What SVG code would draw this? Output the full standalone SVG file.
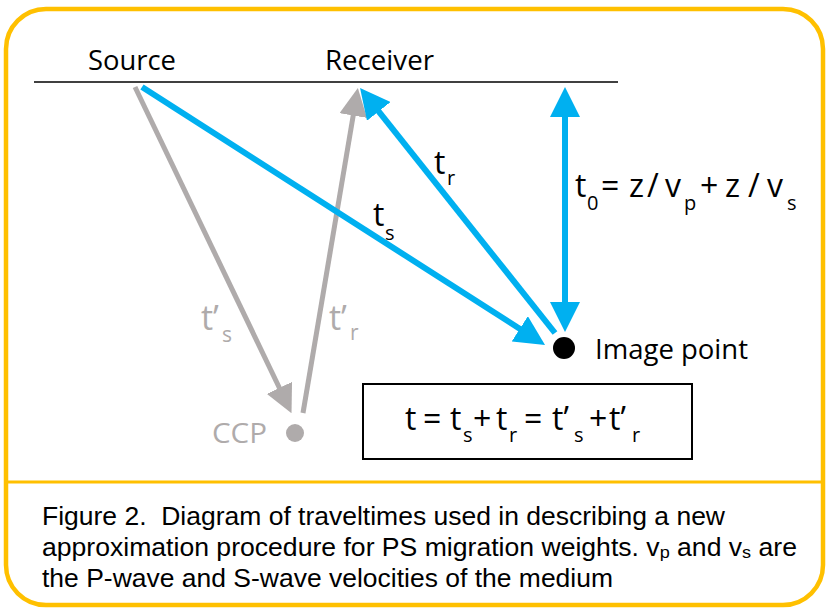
<svg xmlns="http://www.w3.org/2000/svg" width="827" height="609" viewBox="0 0 827 609">
<style>
.frame{fill:none;stroke:#FFC000;stroke-width:4.5}
.div{stroke:#FFC000;stroke-width:3}
.blue{stroke:#00B0F0;stroke-width:6;fill:none}
.gray{stroke:#AFABAB;stroke-width:5;fill:none}
.lbl{font-family:"Open Sans","Liberation Sans",sans-serif;font-size:27px;fill:#000}
.m{font-family:"Open Sans","Liberation Sans",sans-serif;font-size:32px;fill:#000}
.sub{font-family:"Open Sans","Liberation Sans",sans-serif;font-size:20px;fill:#000}
.g{fill:#AFABAB}
.cap{font-family:"Liberation Sans",Arial,sans-serif;font-size:25px;fill:#000}
.capsub{font-size:17px}
</style>
<defs>
<marker id="ab" markerUnits="userSpaceOnUse" markerWidth="30" markerHeight="30" refX="10" refY="15" orient="auto-start-reverse" viewBox="0 0 30 30">
<path d="M0,0 L30,15 L0,30 z" fill="#00B0F0"/>
</marker>
<marker id="ag" markerUnits="userSpaceOnUse" markerWidth="28" markerHeight="28" refX="9" refY="14" orient="auto" viewBox="0 0 28 28">
<path d="M0,0 L28,14 L0,28 z" fill="#AFABAB"/>
</marker>
</defs>
<rect x="0" y="0" width="827" height="609" fill="#fff"/>
<g id="frame">
<rect class="frame" x="6" y="9" width="817" height="596" rx="40" ry="40"/>
<line class="div" x1="6" y1="482" x2="823" y2="482"/>
</g>
<g id="surface">
<line x1="34" y1="82" x2="618" y2="82" stroke="#000" stroke-width="1.5"/>
</g>
<g id="connectors">
<line class="gray" x1="135" y1="87" x2="283.3" y2="396" marker-end="url(#ag)"/>
<line class="gray" x1="303" y1="413" x2="354.7" y2="106.7" marker-end="url(#ag)"/>
<line class="blue" x1="142" y1="87" x2="528.2" y2="334.2" marker-end="url(#ab)"/>
<line class="blue" x1="555" y1="333" x2="372.5" y2="103.6" marker-end="url(#ab)"/>
<line class="blue" x1="565" y1="107" x2="565" y2="312" marker-start="url(#ab)" marker-end="url(#ab)"/>
</g>
<g id="source"><text class="lbl" x="88" y="70" textLength="88" lengthAdjust="spacingAndGlyphs">Source</text></g>
<g id="receiver"><text class="lbl" x="325" y="70" textLength="109" lengthAdjust="spacingAndGlyphs">Receiver</text></g>
<g id="image-point">
<circle cx="564" cy="348" r="11" fill="#000"/>
<text class="lbl" x="595" y="359" textLength="153" lengthAdjust="spacingAndGlyphs">Image point</text>
</g>
<g id="ccp">
<circle cx="295" cy="433" r="9" fill="#AFABAB"/>
<text class="lbl g" x="212" y="443" textLength="55" lengthAdjust="spacingAndGlyphs">CCP</text>
</g>
<g id="labels">
<text class="m" x="373" y="226">t</text><text class="sub" x="385" y="240">s</text>
<text class="m" x="434" y="174">t</text><text class="sub" x="447" y="185">r</text>
<text class="m g" x="201" y="330" style="font-size:34px">t’</text><text class="sub g" x="222" y="342" style="font-size:21px">s</text>
<text class="m g" x="329" y="330" style="font-size:34px">t’</text><text class="sub g" x="350" y="340" style="font-size:21px">r</text>
</g>
<g id="t0-label">
<text class="m" x="575" y="197">t</text><text class="sub" x="587" y="210">0</text>
<text class="m" x="601" y="197">=</text>
<text class="m" x="629" y="197">z</text>
<text class="m" x="647" y="197">/</text>
<text class="m" x="665" y="197">v</text><text class="sub" x="684" y="210">p</text>
<text class="m" x="700" y="197">+</text>
<text class="m" x="725" y="197">z</text>
<text class="m" x="748" y="197">/</text>
<text class="m" x="767" y="197">v</text><text class="sub" x="787" y="210">s</text>
</g>
<g id="formula">
<rect x="363" y="384" width="329" height="75" fill="none" stroke="#000" stroke-width="2"/>
<text class="m" x="405" y="430">t</text>
<text class="m" x="423" y="430">=</text>
<text class="m" x="450" y="430">t</text><text class="sub" x="463" y="442">s</text>
<text class="m" x="473" y="430">+</text>
<text class="m" x="496" y="430">t</text><text class="sub" x="509" y="442">r</text>
<text class="m" x="524" y="430">=</text>
<text class="m" x="552" y="430">t’</text><text class="sub" x="574" y="442">s</text>
<text class="m" x="589" y="430">+</text>
<text class="m" x="609" y="430">t’</text><text class="sub" x="632" y="442">r</text>
</g>
<g id="caption">
<text class="cap" x="42" y="525" textLength="683" lengthAdjust="spacingAndGlyphs">Figure 2.&#160; Diagram of traveltimes used in describing a new</text>
<text class="cap" x="42" y="556" textLength="755" lengthAdjust="spacingAndGlyphs">approximation procedure for PS migration weights. v<tspan class="capsub" dy="2">p</tspan><tspan dy="-2"> and v</tspan><tspan class="capsub" dy="2">s</tspan><tspan dy="-2"> are</tspan></text>
<text class="cap" x="42" y="587" textLength="571" lengthAdjust="spacingAndGlyphs">the P-wave and S-wave velocities of the medium</text>
</g>
</svg>
